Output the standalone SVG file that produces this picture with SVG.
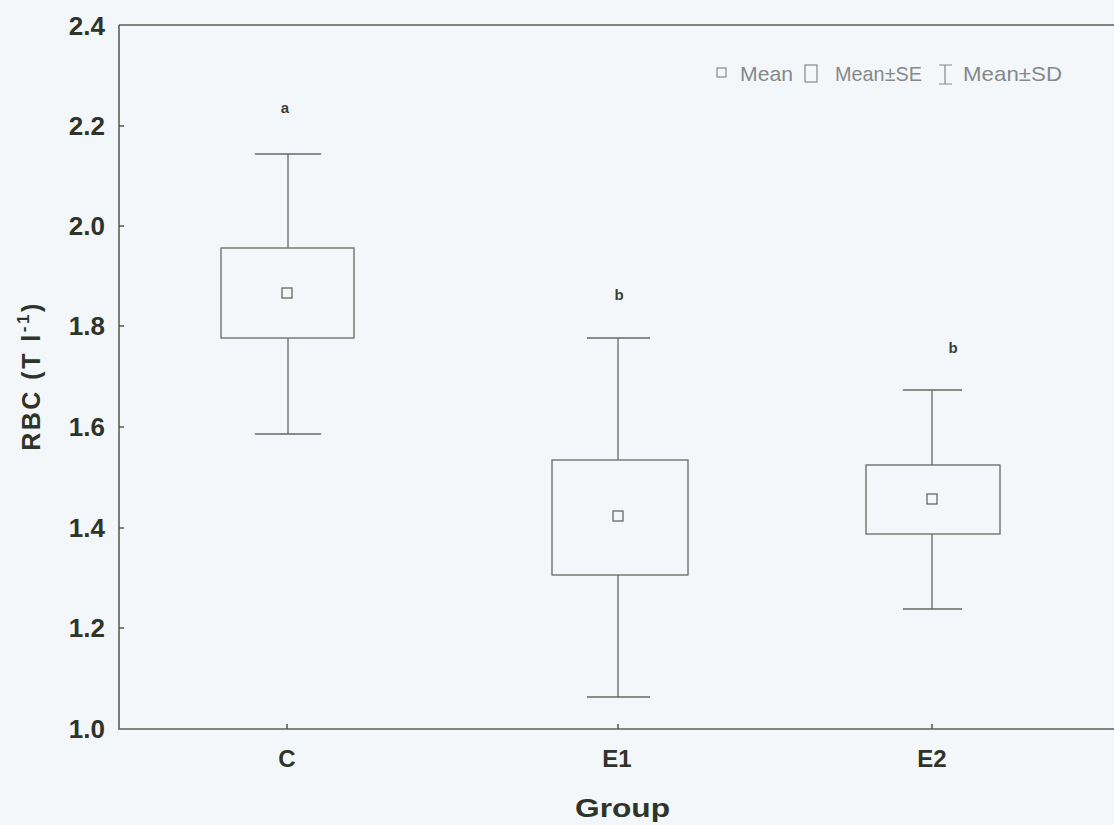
<svg xmlns="http://www.w3.org/2000/svg" width="1114" height="825" viewBox="0 0 1114 825">
<style>
.ax{stroke:#5a5f55;stroke-width:1.6;fill:none}
.ln{stroke:#666a62;stroke-width:1.3;fill:none}
.tk{font-family:"Liberation Sans",Arial,sans-serif;font-weight:bold;font-size:26px;fill:#2e3429}
.xl{font-family:"Liberation Sans",Arial,sans-serif;font-weight:bold;font-size:24px;fill:#2e3429}
.ttl{font-family:"Liberation Sans",Arial,sans-serif;font-weight:bold;font-size:25px;fill:#2e3429}
.lt{font-family:"Liberation Sans",Arial,sans-serif;font-size:21px;fill:#86898a}
.lab{font-family:"Liberation Sans",Arial,sans-serif;font-weight:bold;font-size:15px;fill:#3a3f36}
.lg{fill:none;stroke:#86898a;stroke-width:1.2}
</style>
<rect width="1114" height="825" fill="#f3f7fa"/>
<g id="axes">
<path class="ax" d="M119,25 H1114 M119,25 V729 H1114"/>
<path class="ax" d="M119,126 h5 M119,226 h5 M119,326 h5 M119,427 h5 M119,528 h5 M119,628 h5 M287,729 v-5 M618,729 v-5 M932,729 v-5"/>
<g class="tk" text-anchor="end">
<text x="105" y="35">2.4</text>
<text x="105" y="135">2.2</text>
<text x="105" y="235">2.0</text>
<text x="105" y="335">1.8</text>
<text x="105" y="436">1.6</text>
<text x="105" y="537">1.4</text>
<text x="105" y="637">1.2</text>
<text x="105" y="738">1.0</text>
</g>
<g class="xl" text-anchor="middle">
<text x="287" y="767">C</text>
<text x="617" y="767">E1</text>
<text x="932" y="767">E2</text>
</g>
<text class="ttl" x="575" y="817" textLength="95" lengthAdjust="spacingAndGlyphs">Group</text>
<text class="ttl" font-size="28" letter-spacing="2.5" transform="translate(40,376) rotate(-90)" text-anchor="middle">RBC (T l<tspan font-size="17" dy="-11">-1</tspan><tspan dy="11">)</tspan></text>
</g>
<g id="box-C">
<path class="ln" d="M255,154 H321 M288,154 V248 M288,338 V434 M255,434 H321"/>
<rect class="ln" x="221" y="248" width="133" height="90"/>
<rect class="ln" x="282" y="288" width="10" height="10"/>
<text class="lab" x="285" y="113" text-anchor="middle">a</text>
</g>
<g id="box-E1">
<path class="ln" d="M587,338 H650 M618,338 V460 M618,575 V697 M587,697 H650"/>
<rect class="ln" x="552" y="460" width="136" height="115"/>
<rect class="ln" x="613" y="511" width="10" height="10"/>
<text class="lab" x="619" y="300" text-anchor="middle">b</text>
</g>
<g id="box-E2">
<path class="ln" d="M903,390 H962 M932,390 V465 M932,534 V609 M903,609 H962"/>
<rect class="ln" x="866" y="465" width="134" height="69"/>
<rect class="ln" x="927" y="494" width="10" height="10"/>
<text class="lab" x="953" y="353" text-anchor="middle">b</text>
</g>
<g id="legend">
<rect class="lg" x="717" y="68" width="9" height="9"/>
<text class="lt" x="740" y="81" textLength="53" lengthAdjust="spacingAndGlyphs">Mean</text>
<rect class="lg" x="805" y="65" width="12" height="17"/>
<text class="lt" x="835" y="81" textLength="87" lengthAdjust="spacingAndGlyphs">Mean±SE</text>
<path class="lg" d="M939,65 H952 M945,65 V84 M939,84 H952"/>
<text class="lt" x="963" y="81" textLength="99" lengthAdjust="spacingAndGlyphs">Mean±SD</text>
</g>
</svg>
